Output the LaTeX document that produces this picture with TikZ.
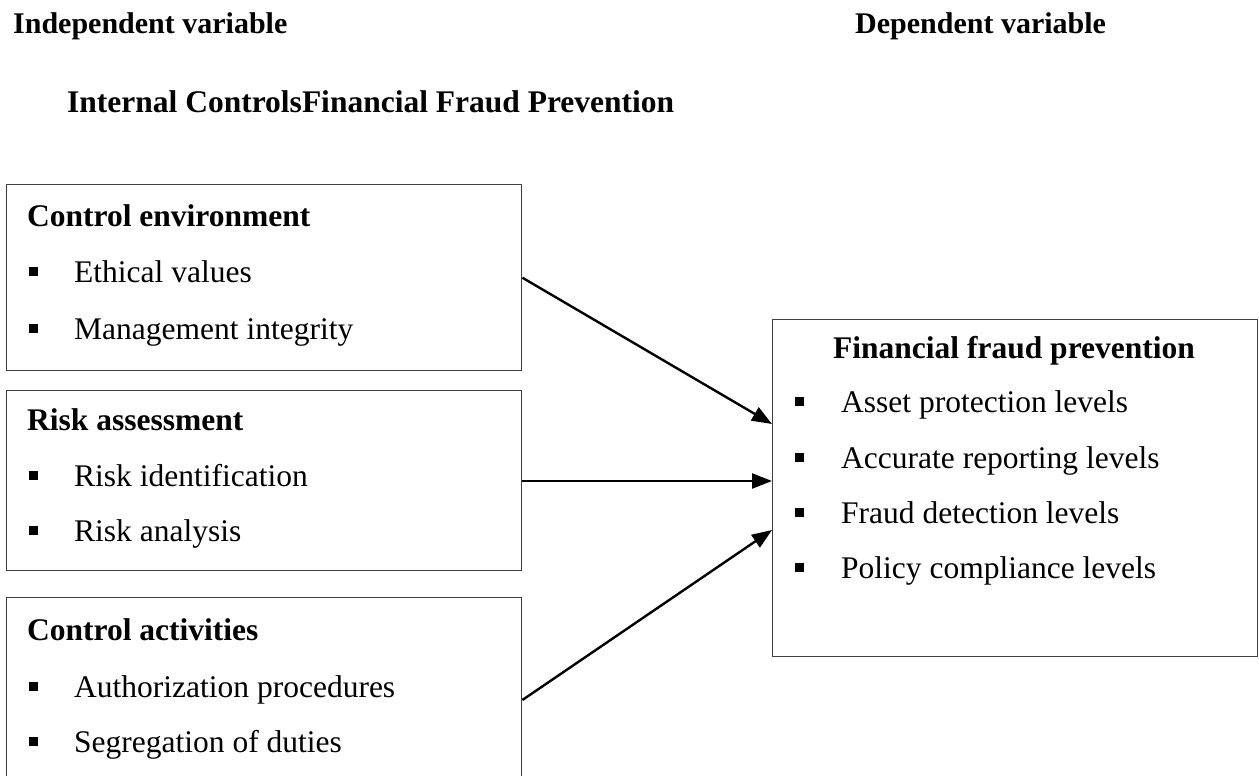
\documentclass[tikz,border=0pt]{standalone}
\usepackage{fontspec}
\setmainfont{Liberation Serif}
\usetikzlibrary{arrows.meta}
\tikzset{
  box/.style={draw=black!75, line width=1.4pt},
  hdr/.style={anchor=base west, inner sep=0pt, font=\fontsize{30}{36}\selectfont\bfseries},
  ttl/.style={anchor=base west, inner sep=0pt, font=\fontsize{31.5}{38}\selectfont\bfseries},
  itm/.style={anchor=base west, inner sep=0pt, font=\fontsize{31.5}{38}\selectfont},
  bul/.style={fill=black, draw=none, minimum size=9pt, inner sep=0pt},
  conn/.style={line width=2.4pt, -{Triangle[length=20pt,width=15pt]}}
}
\begin{document}
\begin{tikzpicture}[x=1pt,y=-1pt]
\useasboundingbox (0,0) rectangle (1259,776);
\clip (0,0) rectangle (1259,776);
% headers
\node[hdr] (hind) at (13,34) {Independent variable};
\node[hdr] (hdep) at (855,34) {Dependent variable};
\node[ttl] (hsub) at (67,113) {Internal ControlsFinancial Fraud Prevention};
% boxes
\node[box, anchor=north west, minimum width=515pt, minimum height=186pt, inner sep=0pt] (b1) at (6,184) {};
\node[box, anchor=north west, minimum width=515pt, minimum height=180pt, inner sep=0pt] (b2) at (6,390) {};
\node[box, anchor=north west, minimum width=515pt, minimum height=200pt, inner sep=0pt] (b3) at (6,597) {};
\node[box, anchor=north west, minimum width=485pt, minimum height=337pt, inner sep=0pt] (fp) at (772,319) {};
% box 1
\node[ttl] (t1) at (27,226) {Control environment};
\node[bul] (p11) at (33,271) {};
\node[itm] (i11) at (74,282) {Ethical values};
\node[bul] (p12) at (33,328) {};
\node[itm] (i12) at (74,339) {Management integrity};
% box 2
\node[ttl] (t2) at (27,430) {Risk assessment};
\node[bul] (p21) at (33,475) {};
\node[itm] (i21) at (74,486) {Risk identification};
\node[bul] (p22) at (33,530) {};
\node[itm] (i22) at (74,541) {Risk analysis};
% box 3
\node[ttl] (t3) at (27,640) {Control activities};
\node[bul] (p31) at (33,686) {};
\node[itm] (i31) at (74,697) {Authorization procedures};
\node[bul] (p32) at (33,741) {};
\node[itm] (i32) at (74,752) {Segregation of duties};
% right box
\node[ttl] (t4) at (833,358) {Financial fraud prevention};
\node[bul] (p41) at (799.5,401) {};
\node[itm] (i41) at (841,412) {Asset protection levels};
\node[bul] (p42) at (799.5,457) {};
\node[itm] (i42) at (841,468) {Accurate reporting levels};
\node[bul] (p43) at (799.5,512) {};
\node[itm] (i43) at (841,523) {Fraud detection levels};
\node[bul] (p44) at (799.5,567) {};
\node[itm] (i44) at (841,578) {Policy compliance levels};
% connector end points
\coordinate (e1) at (fp.west |- 0,424);
\coordinate (e2) at (fp.west |- 0,481);
\coordinate (e3) at (fp.west |- 0,530);
\coordinate (s3) at (b3.east |- 0,700);
\coordinate (s2) at (b2.east |- 0,481);
\draw[conn] (b1.east) -- (e1);
\draw[conn] (s2) -- (e2);
\draw[conn] (s3) -- (e3);
\end{tikzpicture}
\end{document}
